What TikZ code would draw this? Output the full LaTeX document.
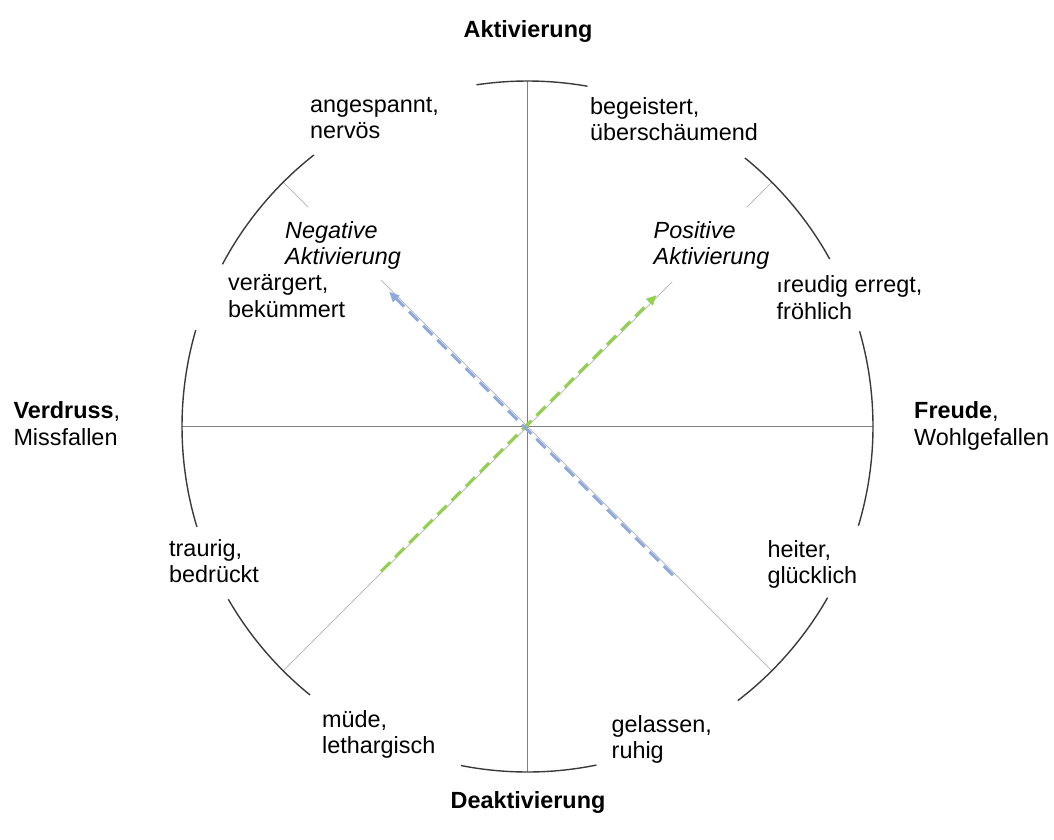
\documentclass[tikz,border=0pt]{standalone}
\usepackage{fontspec}
\setmainfont{Liberation Sans}
\usetikzlibrary{arrows.meta,calc}

\definecolor{rimgray}{HTML}{3A3A3A}
\definecolor{axisgray}{HTML}{808080}
\definecolor{diaggray}{HTML}{BDBDBD}
\definecolor{posgreen}{HTML}{92D050}
\definecolor{negblue}{HTML}{8EA9DB}

\newcommand{\R}{345.5}
\newcommand{\firstline}{\rule{0pt}{17.5pt}}

\tikzset{
  rim/.style={draw=rimgray, line width=1.4pt},
  axisline/.style={draw=axisgray, line width=1.1pt},
  diagline/.style={draw=diaggray, line width=1pt},
  mood/.style={font=\fontsize{23.4}{26.5}\selectfont, align=left,
    anchor=north west, inner sep=0pt, execute at begin node=\firstline},
  pole/.style={font=\fontsize{23.4}{26.5}\selectfont\bfseries, anchor=base, inner sep=0pt},
  dimlabel/.style={mood, font=\fontsize{23.4}{26.5}\selectfont\itshape},
  posarrow/.style={draw=posgreen, line width=3pt, dash pattern=on 13pt off 7pt,
    -{Triangle[length=10pt,width=9pt]}},
  negarrow/.style={draw=negblue, line width=3pt, dash pattern=on 13pt off 7pt,
    -{Triangle[length=10pt,width=9pt]}},
}

\begin{document}
\begin{tikzpicture}[x=1pt,y=-1pt]
\useasboundingbox (0,0) rectangle (1054,839);

\coordinate (C) at (527.5,426.5);

% axes through the centre
\coordinate (top) at ($(C)+(-90:\R)$);
\coordinate (bottom) at ($(C)+(90:\R)$);
\coordinate (left) at ($(C)+(180:\R)$);
\coordinate (right) at ($(C)+(0:\R)$);
\draw[axisline] (top) -- (bottom);
\draw[axisline] (left) -- (right);

% diagonal axes (broken where the dimension labels sit)
\coordinate (posfar) at ($(C)+(-225:\R)$);
\coordinate (posnear) at ($(C)+(-45:206.7)$);
\coordinate (negfar) at ($(C)+(-315:\R)$);
\coordinate (negnear) at ($(C)+(-135:206.7)$);
\draw[diagline] (posfar) -- (posnear);
\draw[diagline] (negfar) -- (negnear);
\coordinate (postickin) at ($(C)+(-45:310)$);
\coordinate (postickout) at ($(C)+(-45:\R)$);
\coordinate (negtickin) at ($(C)+(-135:310)$);
\coordinate (negtickout) at ($(C)+(-135:\R)$);
\draw[diagline] (postickin) -- (postickout);
\draw[diagline] (negtickin) -- (negtickout);

% outer circle, interrupted at the mood labels
\foreach \a/\b in {80/98.5, 29/51, -16.7/16, -52.5/-29.7,
                   258.9/281.5, 210/231, 163.8/196.9, 128.2/152}{
  \draw[rim] ($(C)+(-\a:\R)$) arc[start angle=-\a, end angle=-\b, radius=\R];
}

% dimension arrows
\coordinate (gstart) at ($(C)+(-225:206)+(-0.8,-0.8)$);
\coordinate (gend) at ($(C)+(-45:184)+(-1.2,-1.2)$);
\draw[posarrow] (gstart) -- (gend);
\coordinate (bstart) at ($(C)+(-315:208)+(-1.6,1.6)$);
\coordinate (bend) at ($(C)+(-135:193)+(-1.8,1.8)$);
\draw[negarrow] (bstart) -- (bend);

% poles
\node[pole] (act) at (528,37) {Aktivierung};
\node[pole] (deact) at (528,808) {Deaktivierung};
\node[mood] (verdruss) at (13.3,401.5) {\textbf{Verdruss},\\Missfallen};
\node[mood] (freude) at (914,401.5) {\textbf{Freude},\\Wohlgefallen};

% moods around the circle
\node[mood] (tense) at (310,97) {angespannt,\\nervös};
\node[mood] (excited) at (590,97) {begeistert,\\überschäumend};
\node[mood] (annoyed) at (228,274.5) {verärgert,\\bekümmert};
\node[mood] (joyful) at (776.5,275.5) {freudig erregt,\\fröhlich};
\node[mood] (sad) at (169,539) {traurig,\\bedrückt};
\node[mood] (cheerful) at (767.3,540) {heiter,\\glücklich};
\node[mood] (tired) at (322,710) {müde,\\lethargisch};
\node[mood] (calm) at (611.5,715) {gelassen,\\ruhig};

% dimension labels
\node[dimlabel] (neglabel) at (285,221) {Negative\\Aktivierung};
\node[dimlabel, fill=white, inner xsep=16pt, inner ysep=12pt] (poslabel)
  at (637.5,209) {Positive\\Aktivierung};
\end{tikzpicture}
\end{document}
